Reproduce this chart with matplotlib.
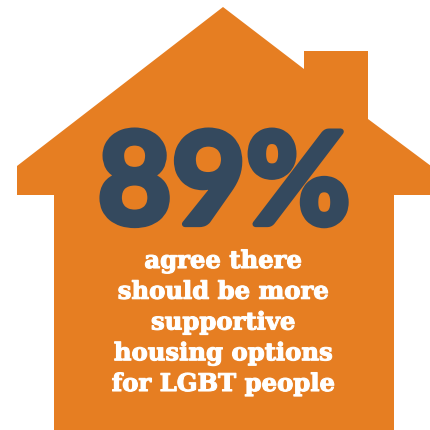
import matplotlib
matplotlib.use('Agg')
import matplotlib.pyplot as plt
from matplotlib.patches import Polygon
import matplotlib.patheffects as pe

# figures shown on the house
pct_value = 89
caption_lines = ['agree there', 'should be more', 'supportive',
                 'housing options', 'for LGBT people']

orange = '#E67E22'
navy = '#34495E'

fig = plt.figure(figsize=(4.31, 4.31), dpi=100)
ax = fig.add_axes([0, 0, 1, 1])
ax.set_xlim(0, 431)
ax.set_ylim(431, 0)
ax.axis('off')

# house outline in pixel coords (x, y down)
house = [(223, 8), (304, 70), (304, 52), (368, 52), (368, 120),
         (431, 167), (431, 196), (394, 196), (394, 431),
         (54, 431), (54, 196), (17, 196), (17, 167)]
ax.add_patch(Polygon(house, closed=True, facecolor=orange, edgecolor='none'))

ax.text(224, 225, f'{pct_value}%', ha='center', va='baseline',
        fontsize=92, fontweight='bold', family='Lato', color=navy,
        path_effects=[pe.withStroke(linewidth=4.5, foreground=navy)])

y0 = 269
for i, line in enumerate(caption_lines):
    ax.text(223, y0 + i * 30.75, line, ha='center', va='baseline',
            fontsize=17.5, fontweight='bold', family='DejaVu Serif', color='white',
            path_effects=[pe.withStroke(linewidth=0.8, foreground='white')])

fig.savefig('out.png', dpi=100)
